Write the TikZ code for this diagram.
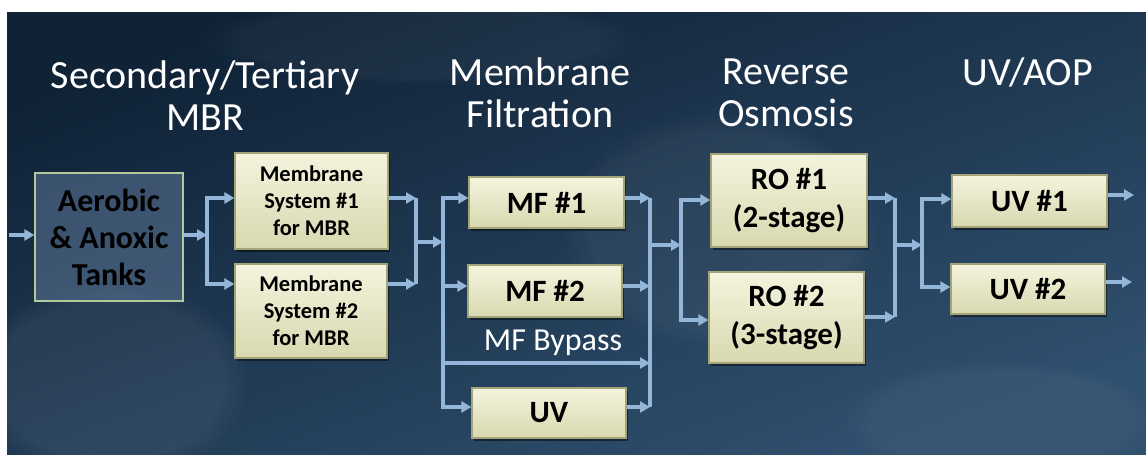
\documentclass[tikz,border=0pt]{standalone}
\usepackage{fontspec}
\setmainfont{Carlito}
\usetikzlibrary{arrows.meta,shadows,fadings}
\definecolor{bgtop}{HTML}{0F2236}
\definecolor{bgbot}{HTML}{30506F}
\definecolor{arrc}{HTML}{94B6D8}
\definecolor{boxline}{HTML}{A4A478}
\definecolor{boxtop}{HTML}{F4F4DE}
\definecolor{boxbot}{HTML}{D8D8B0}
\definecolor{aerline}{HTML}{B3C89C}
\definecolor{aerfill}{HTML}{56708F}
\tikzset{
  procbox/.style={draw=boxline, line width=1.2pt, top color=boxtop, bottom color=boxbot,
    drop shadow={shadow xshift=2pt, shadow yshift=-3pt, opacity=0.45, fill=black},
    font=\bfseries, text=black, align=center, inner sep=0pt},
  heading/.style={text=white, font=\fontsize{40}{42}\selectfont, align=center},
  arr/.style={draw=arrc, line width=3.4pt, -{Triangle[length=10pt,width=11pt]}},
  ln/.style={draw=arrc, line width=3.4pt},
}
\begin{document}
\begin{tikzpicture}[x=1pt,y=-1pt]
\useasboundingbox (0,0) rectangle (1146,455);
\fill[white] (0,0) rectangle (1146,455);
\shade[shading=axis, top color=bgtop, bottom color=bgbot, shading angle=20] (7,12) rectangle (1146,455);
% soft hazy patches
\fill[white, opacity=0.06, path fading=circle with fuzzy edge 20 percent] (110,380) ellipse [x radius=140, y radius=100];
\fill[white, opacity=0.04, path fading=circle with fuzzy edge 20 percent] (420,40) ellipse [x radius=220, y radius=45];
\fill[white, opacity=0.05, path fading=circle with fuzzy edge 20 percent] (720,230) ellipse [x radius=160, y radius=120];
\fill[white, opacity=0.04, path fading=circle with fuzzy edge 20 percent] (1000,420) ellipse [x radius=160, y radius=60];

% headings
\node[heading] (h1) at (205,96) {Secondary/Tertiary\\MBR};
\node[heading] (h2) at (540,93) {Membrane\\Filtration};
\node[heading] (h3) at (786,93) {Reverse\\Osmosis};
\node[heading] (h4) at (1028,72) {UV/AOP};

% boxes
\node[draw=aerline, line width=1.3pt, fill=aerfill, fill opacity=0.6, text opacity=1,
  minimum width=148pt, minimum height=128pt, font=\fontsize{32}{37}\selectfont\bfseries,
  align=center, text=black] (aer) at (109,237) {Aerobic\\\& Anoxic\\Tanks};
\node[procbox, minimum width=153pt, minimum height=96pt, font=\fontsize{22.5}{27}\selectfont\bfseries] (ms1) at (311.5,201) {Membrane\\System \#1\\for MBR};
\node[procbox, minimum width=152pt, minimum height=94pt, font=\fontsize{22.5}{27}\selectfont\bfseries] (ms2) at (311,311) {Membrane\\System \#2\\for MBR};
\node[procbox, minimum width=155pt, minimum height=51pt, font=\fontsize{31}{36}\selectfont\bfseries] (mf1) at (546.5,202.5) {MF \#1};
\node[procbox, minimum width=154pt, minimum height=52pt, font=\fontsize{31}{36}\selectfont\bfseries] (mf2) at (545,291) {MF \#2};
\node[procbox, minimum width=154pt, minimum height=50pt, font=\fontsize{31}{36}\selectfont\bfseries] (uv) at (549,413) {UV};
\node[procbox, minimum width=156pt, minimum height=93pt, font=\fontsize{31}{38}\selectfont\bfseries] (ro1) at (789,200.5) {RO \#1\\(2-stage)};
\node[procbox, minimum width=155pt, minimum height=91pt, font=\fontsize{31}{38}\selectfont\bfseries] (ro2) at (786.5,317.5) {RO \#2\\(3-stage)};
\node[procbox, minimum width=155pt, minimum height=52pt, font=\fontsize{31}{36}\selectfont\bfseries] (uv1) at (1029.5,201) {UV \#1};
\node[procbox, minimum width=154pt, minimum height=50pt, font=\fontsize{31}{36}\selectfont\bfseries] (uv2) at (1028,289) {UV \#2};

\node[text=white, font=\fontsize{32}{36}\selectfont] (byp) at (553,343) {MF Bypass};

% coordinates
\coordinate (in) at (9,235);
\coordinate (s1) at (207,235);
\coordinate (m1) at (416,242);
\coordinate (s2) at (443,242);
\coordinate (m2) at (650,245);
\coordinate (s3) at (681,245);
\coordinate (m3) at (895,245);
\coordinate (s4) at (922,245);
\coordinate (o1) at (1134,195);
\coordinate (o2) at (1132,282);

% connectors
\draw[arr] (in) -- (aer.west |- in);
\draw[arr] (aer.east |- s1) -- (s1);
\draw[arr] (s1) |- (ms1.west |- 0,198);
\draw[arr] (s1) |- (ms2.west |- 0,284);

\draw[ln] (m1 |- 0,198) -- (m1 |- 0,284);
\draw[arr] (ms1.east |- 0,198) -- (m1 |- 0,198);
\draw[arr] (ms2.east |- 0,284) -- (m1 |- 0,284);
\draw[arr] (m1) -- (s2);

\draw[arr] (s2) |- (mf1.west |- 0,198);
\draw[arr] (s2) |- (mf2.west |- 0,286);
\draw[arr] (s2) |- (m2 |- 0,363);
\draw[arr] (s2) |- (uv.west |- 0,407);

\draw[ln] (m2 |- 0,198) -- (m2 |- 0,407);
\draw[arr] (mf1.east |- 0,198) -- (m2 |- 0,198);
\draw[arr] (mf2.east |- 0,286) -- (m2 |- 0,286);
\draw[arr] (uv.east |- 0,407) -- (m2 |- 0,407);
\draw[arr] (m2) -- (s3);

\draw[arr] (s3) |- (ro1.west |- 0,200);
\draw[arr] (s3) |- (ro2.west |- 0,320);

\draw[ln] (m3 |- 0,198) -- (m3 |- 0,317);
\draw[arr] (ro1.east |- 0,198) -- (m3 |- 0,198);
\draw[arr] (ro2.east |- 0,317) -- (m3 |- 0,317);
\draw[arr] (m3) -- (s4);

\draw[arr] (s4) |- (uv1.west |- 0,199);
\draw[arr] (s4) |- (uv2.west |- 0,287);

\draw[arr] (uv1.east |- o1) -- (o1);
\draw[arr] (uv2.east |- o2) -- (o2);
\end{tikzpicture}
\end{document}
